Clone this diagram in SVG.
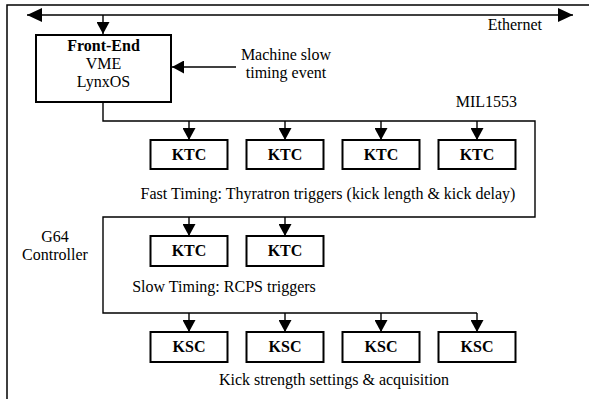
<svg xmlns="http://www.w3.org/2000/svg" width="589" height="399" viewBox="0 0 589 399">
<style>
text{font-family:'Liberation Serif','Times New Roman',Tinos,'DejaVu Serif',serif;font-size:16px;fill:#000}
.b{font-weight:bold}
.m{text-anchor:middle}
.box{fill:#fff;stroke:#000;stroke-width:2}
.ln{fill:none;stroke:#000;stroke-width:1.4}
</style>
<defs>
<marker id="ah" markerWidth="12" markerHeight="13" viewBox="0 0 12 13" refX="12" refY="6.5" orient="auto" markerUnits="userSpaceOnUse">
<path d="M0,0 L12,6.5 L0,13 Z" fill="#000"/>
</marker>
<marker id="ahe" markerWidth="15" markerHeight="14" viewBox="0 0 15 14" refX="15" refY="7" orient="auto-start-reverse" markerUnits="userSpaceOnUse">
<path d="M0,0 L15,7 L0,14 Z" fill="#000"/>
</marker>
</defs>
<rect x="7" y="5" width="600" height="420" fill="#fff" stroke="#000" stroke-width="1.5"/>
<g id="connectors">
<line class="ln" x1="27" y1="15" x2="573" y2="15" marker-start="url(#ahe)" marker-end="url(#ahe)"/>
<line class="ln" x1="103" y1="15" x2="103" y2="34" marker-end="url(#ah)"/>
<line class="ln" x1="236" y1="67" x2="172" y2="67" marker-end="url(#ah)"/>
<polyline class="ln" points="103,102 103,121 535,121 535,217 103,217 103,313 477,313"/>
<line class="ln" x1="189" y1="121" x2="189" y2="140" marker-end="url(#ah)"/>
<line class="ln" x1="285" y1="121" x2="285" y2="140" marker-end="url(#ah)"/>
<line class="ln" x1="381" y1="121" x2="381" y2="140" marker-end="url(#ah)"/>
<line class="ln" x1="477" y1="121" x2="477" y2="140" marker-end="url(#ah)"/>
<line class="ln" x1="189" y1="217" x2="189" y2="236" marker-end="url(#ah)"/>
<line class="ln" x1="285" y1="217" x2="285" y2="236" marker-end="url(#ah)"/>
<line class="ln" x1="189" y1="313" x2="189" y2="332" marker-end="url(#ah)"/>
<line class="ln" x1="285" y1="313" x2="285" y2="332" marker-end="url(#ah)"/>
<line class="ln" x1="381" y1="313" x2="381" y2="332" marker-end="url(#ah)"/>
<line class="ln" x1="477" y1="313" x2="477" y2="332" marker-end="url(#ah)"/>
</g>
<g id="labels">
<text x="542" y="30" text-anchor="end">Ethernet</text>
<text x="286" y="60" class="m">Machine slow</text>
<text x="286" y="78" class="m">timing event</text>
<text x="517" y="107" text-anchor="end">MIL1553</text>
<text x="328" y="199" class="m">Fast Timing: Thyratron triggers (kick length &amp; kick delay)</text>
<text x="55" y="242" class="m">G64</text>
<text x="55" y="260" class="m">Controller</text>
<text x="224" y="292" class="m">Slow Timing: RCPS triggers</text>
<text x="334" y="385" class="m">Kick strength settings &amp; acquisition</text>
</g>
<g id="frontend">
<rect class="box" x="36" y="35" width="135" height="67"/>
<text x="103.5" y="51" class="m b">Front-End</text>
<text x="103.5" y="69" class="m">VME</text>
<text x="103.5" y="87" class="m">LynxOS</text>
</g>
<g id="ktc1"><rect class="box" x="150.5" y="140" width="77" height="29"/><text x="189" y="160" class="m b">KTC</text></g>
<g id="ktc2"><rect class="box" x="246.5" y="140" width="77" height="29"/><text x="285" y="160" class="m b">KTC</text></g>
<g id="ktc3"><rect class="box" x="342.5" y="140" width="77" height="29"/><text x="381" y="160" class="m b">KTC</text></g>
<g id="ktc4"><rect class="box" x="438.5" y="140" width="77" height="29"/><text x="477" y="160" class="m b">KTC</text></g>
<g id="ktc5"><rect class="box" x="150.5" y="236" width="77" height="30"/><text x="189" y="256" class="m b">KTC</text></g>
<g id="ktc6"><rect class="box" x="246.5" y="236" width="77" height="30"/><text x="285" y="256" class="m b">KTC</text></g>
<g id="ksc1"><rect class="box" x="150.5" y="332" width="77" height="30"/><text x="189" y="352" class="m b">KSC</text></g>
<g id="ksc2"><rect class="box" x="246.5" y="332" width="77" height="30"/><text x="285" y="352" class="m b">KSC</text></g>
<g id="ksc3"><rect class="box" x="342.5" y="332" width="77" height="30"/><text x="381" y="352" class="m b">KSC</text></g>
<g id="ksc4"><rect class="box" x="438.5" y="332" width="77" height="30"/><text x="477" y="352" class="m b">KSC</text></g>
</svg>
